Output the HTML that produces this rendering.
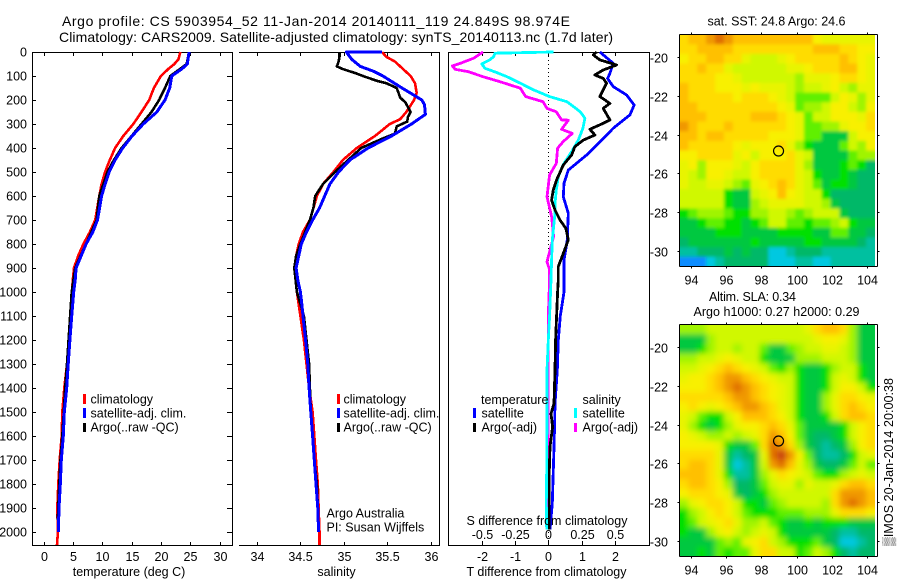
<!DOCTYPE html>
<html>
<head>
<meta charset="utf-8">
<title>Argo profile</title>
<style>
html,body{margin:0;padding:0;background:#fff;}
svg{display:block;}
text{font-family:"Liberation Sans",sans-serif;font-size:12.5px;fill:#000;}
.t14{font-size:14px;}
</style>
</head>
<body>
<svg id="fig" xmlns="http://www.w3.org/2000/svg" width="900" height="580" viewBox="0 0 900 580">
  <defs>
    <clipPath id="clip-sst"><rect x="679.5" y="34.5" width="195.5" height="232"/></clipPath>
    <clipPath id="clip-sla"><rect x="679.5" y="324.5" width="195.5" height="232"/></clipPath>
    <filter id="soft1" x="-5%" y="-5%" width="110%" height="110%"><feGaussianBlur stdDeviation="1.6"/></filter>
    <filter id="soft2" x="-5%" y="-5%" width="110%" height="110%"><feGaussianBlur stdDeviation="3"/></filter>
  </defs>

  <text class="t14" x="62" y="26" textLength="508">Argo profile: CS 5903954_52 11-Jan-2014 20140111_119 24.849S 98.974E</text>
  <text class="t14" x="59" y="42" textLength="554">Climatology: CARS2009. Satellite-adjusted climatology: synTS_20140113.nc (1.7d later)</text>

  <g id="panel-t"></g>
  <g id="panel-s"></g>
  <g id="panel-d"></g>

  <text x="129" y="576" text-anchor="middle">temperature (deg C)</text>
  <text x="336.5" y="576" text-anchor="middle">salinity</text>
  <text x="546.5" y="576" text-anchor="middle">T difference from climatology</text>
  <text x="547" y="525" text-anchor="middle">S difference from climatology</text>

  <g>
    <rect x="83" y="394" width="3" height="10" fill="#f00"/>
    <text x="90.5" y="403.5">climatology</text>
    <rect x="83" y="408" width="3" height="10" fill="#00f"/>
    <text x="90.5" y="417.5">satellite-adj. clim.</text>
    <rect x="83" y="423" width="3" height="9" fill="#000"/>
    <text x="90.5" y="431.5">Argo(..raw -QC)</text>
  </g>
  <g>
    <rect x="337" y="394" width="3" height="10" fill="#f00"/>
    <text x="343.5" y="403.5">climatology</text>
    <rect x="337" y="408" width="3" height="10" fill="#00f"/>
    <text x="343.5" y="417.5">satellite-adj. clim.</text>
    <rect x="337" y="423" width="3" height="9" fill="#000"/>
    <text x="343.5" y="431.5">Argo(..raw -QC)</text>
    <text x="326.5" y="517.5">Argo Australia</text>
    <text x="326.5" y="531.5">PI: Susan Wijffels</text>
  </g>
  <g>
    <text x="481" y="404">temperature</text>
    <rect x="473" y="408" width="3" height="10" fill="#00f"/>
    <text x="481.5" y="417.5">satellite</text>
    <rect x="473" y="423" width="3" height="9" fill="#000"/>
    <text x="481.5" y="431.5">Argo(-adj)</text>
    <text x="582.5" y="404">salinity</text>
    <rect x="574" y="408" width="3" height="10" fill="#0ff"/>
    <text x="582.5" y="417.5">satellite</text>
    <rect x="574" y="423" width="3" height="9" fill="#f0f"/>
    <text x="582.5" y="431.5">Argo(-adj)</text>
  </g>

  <g id="map-sst"></g>
  <g id="map-sla"></g>

  <text x="707.5" y="25.5" textLength="138">sat. SST: 24.8 Argo: 24.6</text>
  <text x="709" y="301" textLength="87">Altim. SLA: 0.34</text>
  <text x="693.5" y="316" textLength="166">Argo h1000: 0.27 h2000: 0.29</text>
  <text transform="translate(893,546) rotate(-90)" textLength="168">▒IMOS 20-Jan-2014 20:00:38</text>
</svg>

<script>
// ---------- profile data (depth in metres, values in physical units) ----------
const depthTicks = [0,100,200,300,400,500,600,700,800,900,1000,1100,1200,1300,1400,1500,1600,1700,1800,1900,2000];
const tempTicks = [0,5,10,15,20,25,30];
const salTicks = [34,34.5,35,35.5,36];
const salTickLabels = ['34','34.5','35','35.5','36'];
const diffTTicks = [-2,-1,0,1,2];
const diffSTicks = [-0.5,-0.25,0,0.25,0.5];
const diffSTickLabels = ['-0.5','-0.25','0','0.25','0.5'];

const tempClimDepth = [0,30,50,70,100,150,200,250,300,350,400,450,500,550,600,700,750,800,850,900,950,1000,1100,1200,1300,1400,1500,1600,1700,1800,1900,2000,2054];
const tempClim = [23.3,23,22.3,21.3,20,18.8,18,16.7,15.3,13.6,12.2,11.3,10.5,9.9,9.5,8.8,7.9,6.8,5.9,5.2,5,4.85,4.6,4.3,4.0,3.55,3.2,3.1,2.76,2.52,2.35,2.45,2.3];
const tempSatDepth = [0,50,70,100,150,200,250,300,350,400,450,500,550,600,700,750,800,850,900,950,1000,1100,1200,1300,1400,1500,1600,1700,1800,1900,2000];
const tempSat = [24.8,24.5,23.6,21.85,21.5,20.7,19.3,17,15.1,13.5,12.2,11.2,10.5,9.9,9.2,8.4,7.25,6.4,5.55,5.4,5.15,4.8,4.5,4.2,3.95,3.55,3.37,3.03,2.87,2.64,2.52];
const tempArgoDepth = [0,50,70,100,150,200,250,300,350,400,450,500,550,600,700,800,850,900,1000,1300,1400,1500,1600,1700,1800,1900,1950];
const tempArgo = [24.8,24.4,23.3,21.6,20.7,19.7,18.4,16.7,15,13.3,12,10.9,10.2,9.5,9.05,7.25,6.3,5.4,4.8,4.0,3.7,3.45,3.2,2.9,2.7,2.5,2.45];

const salClimDepth = [0,20,40,60,100,130,170,200,250,280,300,350,400,450,500,550,600,650,700,750,800,850,900,1000,1100,1200,1300,1400,1500,1600,1700,1800,1900,2000,2054];
const salClim = [35.44,35.49,35.59,35.65,35.77,35.82,35.84,35.81,35.72,35.65,35.53,35.36,35.15,34.99,34.88,34.76,34.69,34.65,34.61,34.53,34.48,34.45,34.43,34.46,34.5,34.54,34.57,34.6,34.64,34.66,34.68,34.7,34.71,34.72,34.72];
const salSatDepth = [0,0,10,30,60,80,100,150,200,220,260,280,300,350,400,450,500,550,600,650,700,750,800,850,900,950,1000,1030,1100,1200,1300,1400,1500,1600,1700,1800,1900,2000];
const salSat = [35.44,35.03,35.05,35.09,35.19,35.34,35.45,35.67,35.9,35.93,35.94,35.86,35.78,35.55,35.28,35.07,34.94,34.84,34.78,34.72,34.64,34.57,34.51,34.48,34.45,34.47,34.5,34.51,34.53,34.56,34.585,34.6,34.62,34.64,34.66,34.68,34.7,34.71];
const salArgoDepth = [0,20,40,60,70,90,100,120,130,150,170,190,210,230,250,270,290,310,340,360,400,450,500,550,600,650,700,800,850,900,1000,1100,1200,1300,1400,1500,1600,1700,1800,1900,1950];
const salArgo = [34.95,34.95,34.94,34.92,34.98,35.15,35.22,35.38,35.49,35.61,35.63,35.65,35.71,35.74,35.77,35.74,35.73,35.61,35.59,35.45,35.2,35.05,34.9,34.76,34.67,34.65,34.61,34.5,34.45,34.43,34.46,34.54,34.57,34.6,34.61,34.62,34.64,34.66,34.69,34.7,34.7];

const diffTSatDepth = [0,47,89,110,144,179,221,262,318,367,429,492,547,603,672,783,867,950,1000,1100,1200,1325,1465,1604,1743,1880,1990];
const diffTSat = [1.55,1.95,1.85,1.78,1.95,2.35,2.58,2.45,1.95,1.6,1.15,0.6,0.47,0.45,0.6,0.57,0.47,0.47,0.47,0.36,0.3,0.27,0.2,0.18,0.15,0.12,0.05];
const diffTArgoDepth = [0,12,33,54,75,96,110,130,186,214,235,283,297,322,346,367,394,429,471,533,575,617,658,700,735,783,839,894,950,1000,1100,1200,1325,1465,1507,1562,1645,1743,1880,1990];
const diffTArgo = [1.45,1.35,1.55,2.05,1.65,1.4,1.65,1.75,1.55,1.85,1.65,1.85,1.65,1.25,1.4,1.05,0.8,0.7,0.45,0.25,0.15,0.1,0.2,0.35,0.53,0.6,0.45,0.3,0.3,0.28,0.25,0.22,0.2,0.17,0.08,0.13,0.05,0.03,0.03,0.03];
const diffSSatDepth = [0,5,19,33,50,68,85,103,130,158,186,207,249,276,318,367,415,471,519,575,631,672,783,867,950,1100,1200,1325,1465,1743,1880,1990];
const diffSSat = [0.04,-0.40,-0.41,-0.44,-0.5,-0.475,-0.39,-0.31,-0.21,-0.11,0.01,0.14,0.24,0.275,0.26,0.225,0.175,0.11,0.075,0.06,0.05,0.05,0.03,0.025,0.02,0.01,0,-0.01,-0.01,-0.012,-0.015,-0.012];
const diffSArgoDepth = [0,26,47,58,72,82,103,124,151,186,207,235,249,283,284,322,339,374,401,464,512,603,686,769,853,874,908,950,1100,1300,1500,1700,1900];
const diffSArgo = [-0.49,-0.56,-0.66,-0.72,-0.70,-0.6,-0.49,-0.36,-0.21,-0.17,-0.04,-0.01,0.06,0.1,0.15,0.1,0.18,0.11,0.07,0.06,0.01,-0.01,0.025,0.04,0,-0.01,0.01,0.01,0,0,0,0,0];

// ---------- map data: one character per cell, index into mapLevels ----------
const mapLevels = ['#0a8cff','#00c8e0','#00c0a0','#00b868','#00c840','#00e000','#60f000','#a0f400','#d0f800','#e8f400','#f8f000','#ffdc00','#ffc000','#f09800','#e07000','#c84010'];
const lonTicks = [94,96,98,100,102,104];
const latTicks = [-20,-22,-24,-26,-28,-30];
const argoLon = 98.974;
const argoLat = -24.849;
const sstRows = [
"bccdedccccccccca999999",
"bbccccbbbbbbbbbcccbbaa",
"abbccbb98889abbbbbcba9",
"bbcbb988888899abbbcca9",
"bbbbaa98888887999abba9",
"cbbbaaa9a99987889a8799",
"cbbbbbabbba9866668a979",
"ccbbbbbbbbba96778aa87a",
"cccbbbbbcccba9688aaa9b",
"dcbbbcbbbbbba966779aab",
"ccbccbbbbbaaa9664448aa",
"cbbbbba9aaab975444687a",
"aabbbb9a8aaab984444677",
"9a7aaa98abbbb974445653",
"987aa988abbbb985445433",
"988998769abcb986455433",
"8888854489aca988533333",
"8888854478999988743333",
"5677765577887678884333",
"4456655456886656678544",
"4444555444455554466443",
"3444444454444455444432",
"2233343433112333222222",
"0001233333111221122222"
];
const slaRows = [
"777888888888889bccb744",
"4447888888888889aa9744",
"4457887886446788998744",
"77889a9885444777888744",
"889abcba98657544578854",
"9aabcddcba988544589854",
"aaabcdedcba9854458aa85",
"bbbbbcddcba9854479bba9",
"aba9abcddcb9854479bcba",
"986558acccba854458bccb",
"9754579aabcb96444458ab",
"a98778789bdca6433458ab",
"aaaa95446bedb7432347ab",
"bbbb942349efda63223589",
"bccb941248dec974334686",
"cccb9522479ba986557898",
"bccba7334689979889bccb",
"abbba943457888888bdddc",
"79abba85546788887bdedc",
"578aba865556667779bbba",
"5689ab9778654454555444",
"54479a8789854444432233",
"44446769ab875556431123",
"445465669bb88568753233"
];

// ---------- axis functions ----------
const NS = 'http://www.w3.org/2000/svg';
const yDepth = d => 52 + 0.24 * d;
const xTemp = v => 43.5 + 5.87 * v;
const xSal = v => 257 + 86.8 * (v - 34);
const xDiffT = v => 548.3 + 33.3 * v;
const xDiffS = v => 548.3 + 133.2 * v;
const xLon = v => 691.3 + 17.54 * (v - 94);
const yLatSst = v => 57.3 - 19.33 * (v + 20);
const yLatSla = v => 347.3 - 19.33 * (v + 20);

function make(parent, tag, attrs, txt) {
  const el = document.createElementNS(NS, tag);
  for (const k in attrs) el.setAttribute(k, attrs[k]);
  if (txt !== undefined) el.textContent = txt;
  parent.appendChild(el);
  return el;
}
function seg(parent, x1, y1, x2, y2) {
  return make(parent, 'line', {x1: x1, y1: y1, x2: x2, y2: y2, stroke: '#000', 'stroke-width': 1, 'shape-rendering': 'crispEdges'});
}
function profile(parent, depths, values, xFn, color, width, name) {
  const pts = depths.map((d, i) => xFn(values[i]).toFixed(1) + ',' + yDepth(d).toFixed(1));
  const el = make(parent, 'polyline', {points: pts.join(' '), fill: 'none', stroke: color, 'stroke-width': width, 'stroke-linejoin': 'round', 'shape-rendering': 'crispEdges'});
  
  
  return el;
}
function tickLabel(parent, x, y, anchor, txt, name) {
  const el = make(parent, 'text', {x: x, y: y, 'text-anchor': anchor}, txt);
  
  
  return el;
}

// ---------- temperature panel ----------
const pT = document.getElementById('panel-t');
seg(pT, 32.5, 52.5, 232.5, 52.5);
seg(pT, 32.5, 545.5, 232.5, 545.5);
seg(pT, 32.5, 52, 32.5, 546);
seg(pT, 232.5, 52, 232.5, 546);
depthTicks.forEach(d => {
  const y = Math.round(yDepth(d)) + 0.5;
  seg(pT, 32.5, y, 36, y);
  seg(pT, 227, y, 232.5, y);
  tickLabel(pT, 27, y + 4, 'end', String(d), 'depth-tick-label');
});
tempTicks.forEach(v => {
  const x = Math.round(xTemp(v)) + 0.5;
  seg(pT, x, 52.5, x, 56);
  seg(pT, x, 542, x, 545.5);
  tickLabel(pT, x, 561, 'middle', String(v), 'temperature-tick-label');
});
profile(pT, tempClimDepth, tempClim, xTemp, '#f00', 2.6, 'temperature-climatology-line');
profile(pT, tempArgoDepth, tempArgo, xTemp, '#000', 2.6, 'temperature-argo-line');
profile(pT, tempSatDepth, tempSat, xTemp, '#00f', 3, 'temperature-satellite-line');

// ---------- salinity panel (no left spine in the reference) ----------
const pS = document.getElementById('panel-s');
seg(pS, 239, 52.5, 439.5, 52.5);
seg(pS, 239, 545.5, 439.5, 545.5);
seg(pS, 439.5, 52, 439.5, 546);
salTicks.forEach((v, i) => {
  const x = Math.round(xSal(v)) + 0.5;
  seg(pS, x, 52.5, x, 56);
  seg(pS, x, 542, x, 545.5);
  tickLabel(pS, x, 561, 'middle', salTickLabels[i], 'salinity-tick-label');
});
profile(pS, salClimDepth, salClim, xSal, '#f00', 2.6, 'salinity-climatology-line');
profile(pS, salArgoDepth, salArgo, xSal, '#000', 2.6, 'salinity-argo-line');
profile(pS, salSatDepth, salSat, xSal, '#00f', 3, 'salinity-satellite-line');

// ---------- difference panel ----------
const pD = document.getElementById('panel-d');
seg(pD, 448.5, 52.5, 649.5, 52.5);
seg(pD, 448.5, 545.5, 649.5, 545.5);
seg(pD, 448.5, 52, 448.5, 546);
seg(pD, 649.5, 52, 649.5, 546);
const zeroLine = make(pD, 'line', {x1: xDiffT(0), y1: 52, x2: xDiffT(0), y2: 545, stroke: '#000', 'stroke-width': 1, 'stroke-dasharray': '1 3', 'shape-rendering': 'crispEdges'});


diffTTicks.forEach(v => {
  const x = Math.round(xDiffT(v)) + 0.5;
  seg(pD, x, 541, x, 545.5);
  tickLabel(pD, x, 561, 'middle', String(v), 't-difference-tick-label');
});
diffSTicks.forEach((v, i) => {
  const x = Math.round(xDiffS(v)) + 0.5;
  seg(pD, x, 52.5, x, 56);
  tickLabel(pD, x, 539, 'middle', diffSTickLabels[i], 's-difference-tick-label');
});
profile(pD, diffTSatDepth, diffTSat, xDiffT, '#00f', 2.8, 't-difference-satellite-line');
profile(pD, diffSArgoDepth, diffSArgo, xDiffS, '#f0f', 2.8, 's-difference-argo-line');
profile(pD, diffSSatDepth, diffSSat, xDiffS, '#0ff', 2.8, 's-difference-satellite-line');
profile(pD, diffTArgoDepth, diffTArgo, xDiffT, '#000', 2.8, 't-difference-argo-line');

// ---------- maps ----------
function drawMap(group, rows, top, yLat, clipId, filterId, cellName) {
  const clip = make(group, 'g', {'clip-path': 'url(#' + clipId + ')'});
  const soft = make(clip, 'g', {filter: 'url(#' + filterId + ')'});
  const left = 679.5, w = 195.5 / 22, h = 232 / rows.length;
  rows.forEach((row, j) => {
    row.split('').forEach((ch, i) => {
      const pad = 10;
      const x0 = left + i * w - (i === 0 ? pad : 0);
      const x1 = left + (i + 1) * w + (i === 21 ? pad : 0);
      const y0 = top + j * h - (j === 0 ? pad : 0);
      const y1 = top + (j + 1) * h + (j === rows.length - 1 ? pad : 0);
      const cell = make(soft, 'rect', {x: x0.toFixed(2), y: y0.toFixed(2), width: (x1 - x0 + 0.4).toFixed(2), height: (y1 - y0 + 0.4).toFixed(2), fill: mapLevels[parseInt(ch, 16)]});
      
      
    });
  });
  const bottom = top + 232, right = 877.5;
  seg(group, left, top, right, top);
  seg(group, left, bottom, right, bottom);
  seg(group, left, top, left, bottom);
  seg(group, right, top, right, bottom);
  lonTicks.forEach(v => {
    const x = Math.round(xLon(v)) + 0.5;
    seg(group, x, top - 2, x, top);
    seg(group, x, bottom, x, bottom + 2);
    tickLabel(group, x, bottom + 18, 'middle', String(v), 'longitude-tick-label');
  });
  latTicks.forEach(v => {
    const y = Math.round(yLat(v)) + 0.5;
    seg(group, left - 2, y, left, y);
    seg(group, right, y, right + 2, y);
    tickLabel(group, 668, y + 5, 'end', String(v), 'latitude-tick-label');
  });
  const c = make(group, 'circle', {cx: xLon(argoLon), cy: yLat(argoLat), r: 5, fill: 'none', stroke: '#000', 'stroke-width': 1.2});
  
  
}
drawMap(document.getElementById('map-sst'), sstRows, 34.5, yLatSst, 'clip-sst', 'soft1', 'sst-cell');
drawMap(document.getElementById('map-sla'), slaRows, 324.5, yLatSla, 'clip-sla', 'soft2', 'sla-cell');
</script>
</body>
</html>
